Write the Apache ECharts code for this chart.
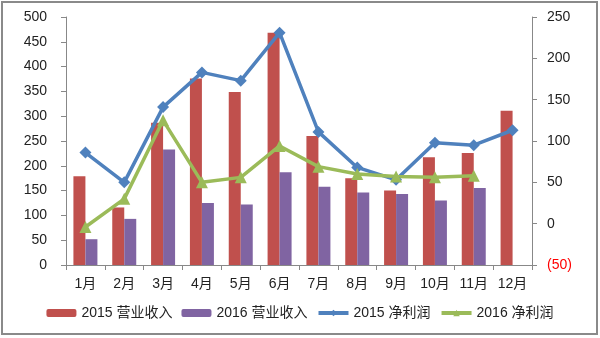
<!DOCTYPE html>
<html><head><meta charset="utf-8">
<script src="https://cdn.jsdelivr.net/npm/echarts@6/dist/echarts.min.js"></script>
<style>html,body{margin:0;padding:0;background:#fff}#c{width:600px;height:338px}</style>
</head><body><div id="c"></div>
<script>
const categories = ['1月','2月','3月','4月','5月','6月','7月','8月','9月','10月','11月','12月'];
const revenue2015 = [179, 116, 287, 376, 349, 468, 260, 175, 150, 217, 226, 311];
const revenue2016 = [52, 93, 233, 125, 122, 187, 158, 146, 143, 130, 155, null];
const profit2015 = [86, 50, 141, 183, 173, 231, 111, 68, 53, 98, 95, 113];
const profit2016 = [-4, 30, 125, 50, 56, 94, 69, 60, 57, 56, 58, null];
const seriesNames = ['2015 营业收入', '2016 营业收入', '2015 净利润', '2016 净利润'];

const FONT = '"Liberation Sans","Noto Sans CJK SC",sans-serif';
const chart = echarts.init(document.getElementById('c'));
chart.setOption({
  animation: false,
  backgroundColor: '#fff',
  textStyle: { fontFamily: FONT },
  grid: { left: 66, right: 68, top: 17, bottom: 73 },
  legend: {
    bottom: 13, left: 'center', itemGap: 9, itemWidth: 30, itemHeight: 8,
    textStyle: { fontSize: 14, color: '#222', fontFamily: FONT },
    data: [
      { name: seriesNames[0] },
      { name: seriesNames[1] },
      { name: seriesNames[2], lineStyle: { width: 4 } },
      { name: seriesNames[3], lineStyle: { width: 4 } }
    ]
  },
  xAxis: {
    type: 'category', data: categories, boundaryGap: true,
    axisLine: { lineStyle: { color: '#888', width: 1 } },
    axisTick: { show: true, length: 5, lineStyle: { color: '#888' } },
    axisLabel: { color: '#222', fontSize: 14, margin: 12, fontFamily: FONT }
  },
  yAxis: [{
    type: 'value', min: 0, max: 500, interval: 50,
    splitLine: { show: false },
    axisLine: { show: true, lineStyle: { color: '#888' } },
    axisTick: { show: true, length: 5, lineStyle: { color: '#888' } },
    axisLabel: { color: '#222', fontSize: 14, margin: 19, fontFamily: FONT }
  }, {
    type: 'value', min: -50, max: 250, interval: 50, position: 'right',
    splitLine: { show: false },
    axisLine: { show: true, lineStyle: { color: '#888' } },
    axisTick: { show: true, length: 5, lineStyle: { color: '#888' } },
    axisLabel: {
      fontSize: 14, margin: 15, color: '#222', fontFamily: FONT,
      formatter: v => v < 0 ? '{neg|(' + Math.abs(v) + ')}' : String(v),
      rich: { neg: { color: '#FF0000', fontSize: 14, fontFamily: FONT } }
    }
  }],
  series: [{
    name: seriesNames[0], type: 'bar', data: revenue2015, barWidth: 12, barGap: '0%',
    itemStyle: { color: '#C0504D' }
  }, {
    name: seriesNames[1], type: 'bar', data: revenue2016, barWidth: 12,
    itemStyle: { color: '#8064A2' }
  }, {
    name: seriesNames[2], type: 'line', yAxisIndex: 1, data: profit2015,
    symbol: 'diamond', symbolSize: 12,
    lineStyle: { color: '#4F81BD', width: 3.5 }, itemStyle: { color: '#4F81BD' }
  }, {
    name: seriesNames[3], type: 'line', yAxisIndex: 1, data: profit2016,
    symbol: 'triangle', symbolSize: 12,
    lineStyle: { color: '#9BBB59', width: 3.5 }, itemStyle: { color: '#9BBB59' }
  }],
  graphic: [{
    type: 'rect', shape: { x: 2, y: 2, width: 595, height: 332 },
    style: { fill: 'none', stroke: '#8a8a8a', lineWidth: 2 }, silent: true
  }]
});
</script></body></html>
